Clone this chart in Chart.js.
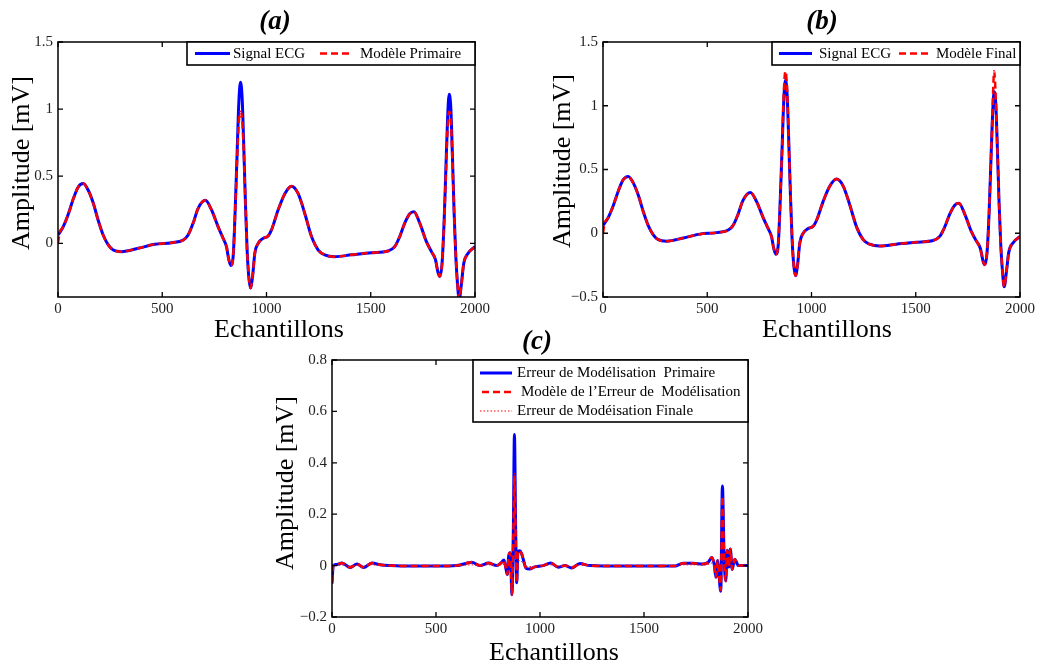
<!DOCTYPE html>
<html>
<head>
<meta charset="utf-8">
<script src="https://cdn.jsdelivr.net/npm/chart.js@4/dist/chart.umd.min.js"></script>
<style>
  html, body { margin: 0; padding: 0; background: #fff; }
  #fig { position: relative; width: 1038px; height: 668px; background: #fff; overflow: hidden; }
  #fig canvas { position: absolute; }
</style>
</head>
<body>
<div id="fig">
  <canvas id="cA" width="515" height="345" style="left:0px;top:0px"></canvas>
  <canvas id="cB" width="523" height="345" style="left:515px;top:0px"></canvas>
  <canvas id="cC" width="540" height="343" style="left:250px;top:325px"></canvas>
</div>
<script>
// ---- ECG beat pair (samples and amplitudes in mV) ----
const samplesEcg = [0, 8, 24, 50, 73, 97, 121, 145, 169, 193, 217, 241, 265, 305, 385, 465, 545, 601, 624, 648,
  672, 707, 736, 768, 792, 808, 819, 829, 840, 848, 859, 867, 875, 883, 891, 899, 907, 915, 923, 933,
  944, 960, 984, 1008, 1024, 1056, 1088, 1120, 1152, 1184, 1216, 1248, 1279, 1327, 1407, 1503, 1583, 1615, 1639, 1663,
  1687, 1707, 1735, 1767, 1791, 1810, 1823, 1831, 1842, 1852, 1860, 1868, 1876, 1884, 1892, 1900, 1908, 1916, 1924, 1935,
  1946, 1967, 2000];

const ecgSignal = [0.062, 0.08, 0.12, 0.22, 0.33, 0.42, 0.445, 0.395, 0.30, 0.17, 0.06, -0.012, -0.05, -0.062, -0.037, -0.007, 0.005, 0.025, 0.062, 0.15,
  0.26, 0.32, 0.25, 0.123, 0.037, -0.025, -0.12, -0.165, -0.1, 0.17, 0.67, 1.04, 1.2, 1.09, 0.72, 0.30, -0.05, -0.25, -0.333, -0.25,
  -0.074, 0.0, 0.037, 0.055, 0.1, 0.25, 0.37, 0.425, 0.37, 0.22, 0.05, -0.05, -0.086, -0.1, -0.086, -0.07, -0.057, -0.025, 0.05, 0.15,
  0.22, 0.235, 0.15, 0.012, -0.062, -0.12, -0.22, -0.247, -0.15, 0.17, 0.54, 0.91, 1.11, 1.01, 0.64, 0.22, -0.1, -0.3, -0.42, -0.3,
  -0.15, -0.074, -0.025];

const modelPrimary = [0.0, 0.08, 0.12, 0.22, 0.33, 0.42, 0.445, 0.395, 0.30, 0.17, 0.06, -0.012, -0.05, -0.062, -0.037, -0.007, 0.005, 0.025, 0.062, 0.15,
  0.26, 0.32, 0.25, 0.123, 0.037, -0.025, -0.12, -0.165, -0.1, 0.17, 0.62, 0.9, 0.98, 0.93, 0.68, 0.30, -0.05, -0.25, -0.333, -0.25,
  -0.074, 0.0, 0.037, 0.055, 0.1, 0.25, 0.37, 0.425, 0.37, 0.22, 0.05, -0.05, -0.086, -0.1, -0.086, -0.07, -0.057, -0.025, 0.05, 0.15,
  0.22, 0.235, 0.15, 0.012, -0.062, -0.12, -0.22, -0.247, -0.15, 0.17, 0.5, 0.84, 0.98, 0.93, 0.6, 0.22, -0.1, -0.3, -0.42, -0.3,
  -0.15, -0.074, -0.025];

const modelFinal = [0.0, 0.08, 0.12, 0.22, 0.33, 0.42, 0.445, 0.395, 0.30, 0.17, 0.06, -0.012, -0.05, -0.062, -0.037, -0.007, 0.005, 0.025, 0.062, 0.15,
  0.26, 0.32, 0.25, 0.123, 0.037, -0.025, -0.12, -0.165, -0.1, 0.17, 0.67, 1.1, 1.27, 1.13, 0.72, 0.30, -0.05, -0.25, -0.333, -0.25,
  -0.074, 0.0, 0.037, 0.055, 0.1, 0.25, 0.37, 0.425, 0.37, 0.22, 0.05, -0.05, -0.086, -0.1, -0.086, -0.07, -0.057, -0.025, 0.05, 0.15,
  0.22, 0.235, 0.15, 0.012, -0.062, -0.12, -0.22, -0.247, -0.15, 0.17, 0.54, 0.95, 1.27, 1.05, 0.64, 0.22, -0.1, -0.3, -0.42, -0.3,
  -0.15, -0.074, -0.025];

// ---- modelling errors ----
const samplesErr = [0, 6, 20, 48, 88, 120, 152, 192, 232, 280, 400, 500, 600, 672, 712, 752, 792, 812, 827, 837,
  843, 849, 856, 861, 865, 872, 877, 883, 888, 894, 904, 912, 920, 933, 949, 976, 1016, 1051, 1088, 1120,
  1152, 1192, 1240, 1400, 1624, 1648, 1688, 1736, 1784, 1809, 1826, 1837, 1846, 1854, 1859, 1869, 1877, 1885, 1893, 1900,
  1908, 1915, 1924, 1936, 1954, 2000];

const errPrimary = [-0.07, 0.0, 0.004, 0.01, -0.007, 0.006, -0.007, 0.01, 0.003, 0.0, -0.002, -0.002, 0.0, 0.013, 0.0, 0.01, 0.0, 0.01, 0.022, -0.015,
  -0.035, 0.035, 0.05, -0.03, -0.113, 0.15, 0.51, 0.14, -0.067, 0.055, 0.058, 0.045, 0.023, -0.01, -0.013, -0.005, 0.0, 0.01, -0.006, 0.0,
  -0.009, 0.008, 0.0, -0.002, -0.002, -0.002, 0.009, 0.009, 0.006, 0.013, 0.032, 0.007, -0.045, 0.02, -0.02, -0.1, 0.31, 0.04, -0.06, 0.06,
  -0.005, 0.065, -0.015, 0.025, 0.0, 0.0];

const errModel = [-0.065, 0.0, 0.004, 0.01, -0.007, 0.006, -0.007, 0.01, 0.003, 0.0, -0.002, -0.002, 0.0, 0.013, 0.0, 0.01, 0.0, 0.01, 0.022, -0.015,
  -0.035, 0.035, 0.05, -0.03, -0.113, 0.12, 0.355, 0.11, -0.067, 0.055, 0.058, 0.045, 0.023, -0.01, -0.013, -0.005, 0.0, 0.01, -0.006, 0.0,
  -0.009, 0.008, 0.0, -0.002, -0.002, -0.002, 0.009, 0.009, 0.006, 0.013, 0.032, 0.007, -0.045, 0.02, -0.02, -0.095, 0.27, 0.03, -0.06, 0.06,
  -0.005, 0.065, -0.015, 0.025, 0.0, 0.0];

const errFinal = [0.0, 0.0, 0.0, 0.002, -0.002, 0.002, -0.002, 0.003, 0.0, 0.0, 0.0, 0.0, 0.0, 0.003, 0.0, 0.003, 0.0, 0.003, 0.005, -0.005,
  -0.01, 0.01, 0.015, -0.01, -0.02, 0.02, 0.04, 0.02, -0.01, 0.02, 0.02, 0.015, 0.008, -0.003, -0.004, -0.002, 0.0, 0.003, -0.002, 0.0,
  -0.003, 0.002, 0.0, 0.0, 0.0, 0.0, 0.003, 0.003, 0.002, 0.004, 0.01, 0.002, -0.015, 0.006, -0.006, -0.02, 0.03, 0.01, -0.02, 0.02,
  0.0, 0.02, -0.005, 0.008, 0.0, 0.0];

// ---- tick positions ----
const xTicks = [0, 500, 1000, 1500, 2000];
const yTicksA = [0, 0.5, 1, 1.5];
const yTicksB = [-0.5, 0, 0.5, 1, 1.5];
const yTicksC = [-0.2, 0, 0.2, 0.4, 0.6, 0.8];

const serif = "'Liberation Serif', 'Times New Roman', serif";
const BLUE = '#0000ff';
const RED = '#ff0000';

function points(xs, ys) {
  return xs.map((x, i) => ({ x: x, y: ys[i] }));
}

function fmt(v) {
  const r = Math.round(v * 1000) / 1000;
  return r < 0 ? '\u2212' + String(Math.abs(r)) : String(r);
}

function strokeSample(ctx, kind, x0, x1, y) {
  ctx.save();
  ctx.beginPath();
  if (kind === 'solid') { ctx.strokeStyle = BLUE; ctx.lineWidth = 3; ctx.setLineDash([]); }
  else if (kind === 'dash') { ctx.strokeStyle = RED; ctx.lineWidth = 2.5; ctx.setLineDash([7, 4]); }
  else { ctx.strokeStyle = RED; ctx.lineWidth = 1; ctx.setLineDash([1.5, 2]); }
  ctx.moveTo(x0, y); ctx.lineTo(x1, y);
  ctx.stroke();
  ctx.restore();
}

// MATLAB-like frame: box, inward ticks, inset legend, titles and axis labels
const axesFrame = {
  id: 'axesFrame',
  afterDatasetsDraw(chart, args, o) {
    const ctx = chart.ctx, a = chart.chartArea, x = chart.scales.x, y = chart.scales.y;
    ctx.save();
    ctx.strokeStyle = '#000';
    ctx.lineWidth = 1.3;
    ctx.setLineDash([]);
    const tl = 5;
    ctx.beginPath();
    x.ticks.forEach(t => {
      const px = x.getPixelForValue(t.value);
      ctx.moveTo(px, a.bottom); ctx.lineTo(px, a.bottom - tl);
      ctx.moveTo(px, a.top); ctx.lineTo(px, a.top + tl);
    });
    y.ticks.forEach(t => {
      const py = y.getPixelForValue(t.value);
      ctx.moveTo(a.left, py); ctx.lineTo(a.left + tl, py);
      ctx.moveTo(a.right, py); ctx.lineTo(a.right - tl, py);
    });
    ctx.stroke();
    ctx.lineWidth = 1.5;
    ctx.strokeRect(a.left, a.top, a.right - a.left, a.bottom - a.top);

    // legend box anchored at the upper-right corner of the axes
    const L = o.legend;
    const bx = a.right - L.w, by = a.top;
    ctx.fillStyle = '#fff';
    ctx.fillRect(bx, by, L.w, L.h);
    ctx.lineWidth = 1.6;
    ctx.strokeStyle = '#000';
    ctx.strokeRect(bx, by, L.w, L.h);
    ctx.font = '15px ' + serif;
    ctx.textBaseline = 'middle';
    ctx.textAlign = 'left';
    L.items.forEach(it => {
      strokeSample(ctx, it.kind, bx + it.l0, bx + it.l1, by + it.dy);
      ctx.fillStyle = '#000';
      ctx.fillText(it.text, bx + it.tx, by + it.dy + 0.5);
    });

    // title
    ctx.fillStyle = '#000';
    ctx.font = 'italic bold 27px ' + serif;
    ctx.textAlign = 'center';
    ctx.textBaseline = 'middle';
    ctx.fillText(o.title.text, o.title.x, o.title.y);

    // x label
    ctx.font = '26px ' + serif;
    ctx.textBaseline = 'alphabetic';
    ctx.fillText('Echantillons', o.xlabel.x, o.xlabel.y);

    // y label
    ctx.save();
    ctx.translate(o.ylabel.x, o.ylabel.y);
    ctx.rotate(-Math.PI / 2);
    ctx.textBaseline = 'middle';
    ctx.fillText('Amplitude [mV]', 0, 0);
    ctx.restore();
    ctx.restore();
  }
};

function makeChart(id, cfg) {
  return new Chart(document.getElementById(id), {
    type: 'line',
    data: { datasets: cfg.datasets },
    options: {
      responsive: false,
      animation: false,
      devicePixelRatio: 1,
      layout: { padding: cfg.padding },
      events: [],
      elements: {
        point: { radius: 0, hoverRadius: 0 },
        line: { cubicInterpolationMode: 'monotone', borderJoinStyle: 'round', fill: false }
      },
      plugins: {
        legend: { display: false },
        tooltip: { enabled: false },
        title: { display: false },
        axesFrame: cfg.frame
      },
      scales: {
        x: {
          type: 'linear', min: 0, max: 2000,
          afterBuildTicks: s => { s.ticks = xTicks.map(v => ({ value: v })); },
          afterFit: s => { s.height = cfg.xh; },
          grid: { display: false, drawTicks: false },
          border: { display: false },
          ticks: { autoSkip: false, maxRotation: 0, padding: 3, color: '#222',
                   font: { family: serif, size: 15 }, callback: v => fmt(v) }
        },
        y: {
          type: 'linear', min: cfg.ymin, max: cfg.ymax,
          afterBuildTicks: s => { s.ticks = cfg.yTicks.map(v => ({ value: v })); },
          afterFit: s => { s.width = cfg.yw; },
          grid: { display: false, drawTicks: false },
          border: { display: false },
          ticks: { autoSkip: false, padding: 5, color: '#222',
                   font: { family: serif, size: 15 }, callback: v => fmt(v) }
        }
      }
    },
    plugins: [axesFrame]
  });
}

function solid(label, xs, ys, order) {
  return { label, data: points(xs, ys), borderColor: BLUE, borderWidth: 3, order };
}
function dashed(label, xs, ys, order) {
  return { label, data: points(xs, ys), borderColor: RED, borderWidth: 2.5, borderDash: [7, 4], order };
}
function dotted(label, xs, ys, order) {
  return { label, data: points(xs, ys), borderColor: RED, borderWidth: 1, borderDash: [1.5, 2], order };
}

// (a) ECG and primary model
makeChart('cA', {
  padding: { left: 0, top: 42, right: 40, bottom: 0 },
  yw: 58, xh: 48, ymin: -0.4, ymax: 1.5, yTicks: yTicksA,
  datasets: [
    solid('Signal ECG', samplesEcg, ecgSignal, 2),
    dashed('Modèle Primaire', samplesEcg, modelPrimary, 1)
  ],
  frame: {
    title: { text: '(a)', x: 275, y: 22 },
    xlabel: { x: 279, y: 337 },
    ylabel: { x: 22, y: 163 },
    legend: { w: 288, h: 23, items: [
      { kind: 'solid', l0: 8, l1: 43, tx: 46, dy: 11.5, text: 'Signal ECG' },
      { kind: 'dash', l0: 133, l1: 166, tx: 173, dy: 11.5, text: 'Modèle Primaire' }
    ] }
  }
});

// (b) ECG and final model
makeChart('cB', {
  padding: { left: 30, top: 42, right: 17, bottom: 0 },
  yw: 58, xh: 48, ymin: -0.5, ymax: 1.5, yTicks: yTicksB,
  datasets: [
    solid('Signal ECG', samplesEcg, ecgSignal, 2),
    dashed('Modèle Final', samplesEcg, modelFinal, 1)
  ],
  frame: {
    title: { text: '(b)', x: 307, y: 22 },
    xlabel: { x: 312, y: 337 },
    ylabel: { x: 48, y: 161 },
    legend: { w: 248, h: 23, items: [
      { kind: 'solid', l0: 7, l1: 40, tx: 47, dy: 11.5, text: 'Signal ECG' },
      { kind: 'dash', l0: 127, l1: 160, tx: 164, dy: 11.5, text: 'Modèle Final' }
    ] }
  }
});

// (c) modelling errors
makeChart('cC', {
  padding: { left: 24, top: 35, right: 42, bottom: 0 },
  yw: 58, xh: 51, ymin: -0.2, ymax: 0.8, yTicks: yTicksC,
  datasets: [
    solid('Erreur de Modélisation  Primaire', samplesErr, errPrimary, 3),
    dashed('Modèle de l\u2019Erreur de  Modélisation', samplesErr, errModel, 2),
    dotted('Erreur de Modéisation Finale', samplesErr, errFinal, 1)
  ],
  frame: {
    title: { text: '(c)', x: 287, y: 17 },
    xlabel: { x: 304, y: 335 },
    ylabel: { x: 36, y: 158 },
    legend: { w: 275, h: 62, items: [
      { kind: 'solid', l0: 7, l1: 39, tx: 44, dy: 13, text: 'Erreur de Modélisation  Primaire' },
      { kind: 'dash', l0: 9, l1: 39, tx: 48, dy: 32, text: 'Modèle de l\u2019Erreur de  Modélisation' },
      { kind: 'dot', l0: 7, l1: 39, tx: 44, dy: 51, text: 'Erreur de Modéisation Finale' }
    ] }
  }
});
</script>
</body>
</html>
